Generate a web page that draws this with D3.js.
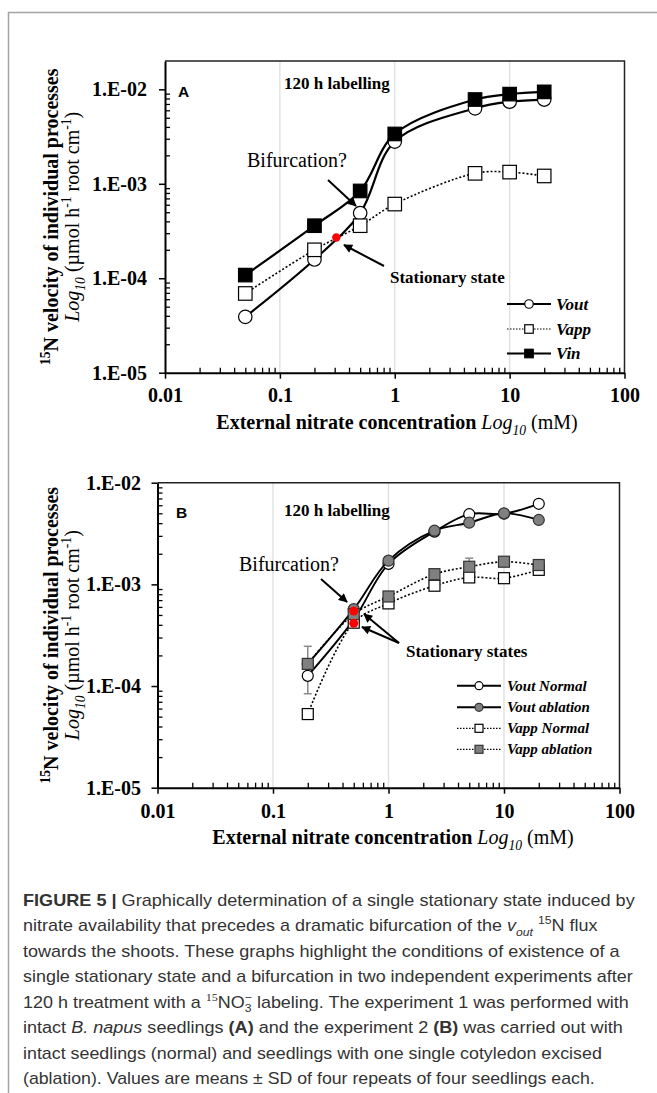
<!DOCTYPE html>
<html>
<head>
<meta charset="utf-8">
<script src="https://cdn.jsdelivr.net/npm/d3@7"></script>
<style>
  body { margin: 0; background: #fff; }
  svg { display: block; }
</style>
</head>
<body>
<svg id="fig" width="657" height="1093" font-family='"Liberation Serif", "Times New Roman", serif'></svg>
<script>
// ---- data ----
const xTicks = [0.01, 0.1, 1, 10, 100];
const xTickLabels = ['0.01', '0.1', '1', '10', '100'];
const yTicks = [1e-5, 1e-4, 1e-3, 1e-2];
const yTickLabels = ['1.E-05', '1.E-04', '1.E-03', '1.E-02'];

// panel A
const xA = [0.05, 0.2, 0.5, 1, 5, 10, 20];
const voutA = [3.9e-5, 1.58e-4, 4.9e-4, 2.8e-3, 6.3e-3, 7.4e-3, 7.8e-3];
const vappA = [6.9e-5, 2.0e-4, 3.6e-4, 6.1e-4, 1.29e-3, 1.33e-3, 1.21e-3];
const vinA = [1.08e-4, 3.6e-4, 8.4e-4, 3.37e-3, 7.8e-3, 8.9e-3, 9.4e-3];
const stationaryAx = [0.31];
const stationaryAy = [2.7e-4];

// panel B
const xB = [0.2, 0.5, 1, 2.5, 5, 10, 20];
const voutNormalB = [1.26e-4, 4.5e-4, 1.59e-3, 3.3e-3, 4.9e-3, 4.95e-3, 6.2e-3];
const voutAblationB = [1.65e-4, 5.7e-4, 1.71e-3, 3.37e-3, 4.04e-3, 5.0e-3, 4.3e-3];
const vappNormalB = [5.3e-5, 4.2e-4, 6.5e-4, 9.7e-4, 1.17e-3, 1.15e-3, 1.39e-3];
const vappAblationB = [1.65e-4, 5.1e-4, 7.6e-4, 1.26e-3, 1.49e-3, 1.67e-3, 1.55e-3];
const sdVappAblationB = [0.81e-4, null, null, null, 0.32e-3, null, null];
const stationaryBx = [0.5, 0.5];
const stationaryBy = [5.47e-4, 4.14e-4];

const SANS = '"Liberation Sans", Arial, sans-serif';
const SERIF = '"Liberation Serif", "Times New Roman", serif';

const svg = d3.select('#fig');
svg.append('rect').attr('width', 657).attr('height', 1093).attr('fill', '#fff');

// grey frame of the figure
svg.append('path')
    .attr('d', 'M8.5,1093V12.5H657')
    .attr('fill', 'none')
    .attr('stroke', '#a3a3a3')
    .attr('stroke-width', 1.5);

const defs = svg.append('defs');
defs.append('marker')
    .attr('id', 'arr')
    .attr('viewBox', '0 0 10 10')
    .attr('refX', 9).attr('refY', 5)
    .attr('markerWidth', 12).attr('markerHeight', 9)
    .attr('markerUnits', 'userSpaceOnUse')
    .attr('orient', 'auto')
    .append('path').attr('d', 'M0,0L10,5L0,10z').attr('fill', '#000');

// text made of several styled runs (bold / italic / sup / sub)
function rich(sel, parts, size) {
    let shift = 0;
    parts.forEach(p => {
        const ts = sel.append('tspan').text(p.t);
        const target = p.sup ? -size * 0.42 : p.sub ? size * 0.28 : 0;
        ts.attr('dy', target - shift);
        shift = target;
        if (p.sup || p.sub) ts.attr('font-size', size * 0.68);
        if (p.b) ts.attr('font-weight', 'bold');
        if (p.i) ts.attr('font-style', 'italic');
        if (p.dx) ts.attr('dx', p.dx);
        if (p.f) ts.attr('font-family', p.f);
    });
    return sel;
}

function minorTicks(lo, hi) {
    const v = [];
    for (let e = lo; e < hi; e++) for (let k = 2; k <= 9; k++) v.push(k * Math.pow(10, e));
    return v;
}

function arrow(x1, y1, x2, y2) {
    svg.append('line')
        .attr('x1', x1).attr('y1', y1).attr('x2', x2).attr('y2', y2)
        .attr('stroke', '#000').attr('stroke-width', 2)
        .attr('marker-end', 'url(#arr)');
}

function label(x, y, txt, size, weight, family) {
    return svg.append('text')
        .attr('x', x).attr('y', y)
        .attr('font-size', size)
        .attr('font-weight', weight || 'normal')
        .attr('font-family', family || SERIF)
        .text(txt);
}

// draws axes, gridlines, frame, titles; returns the scales
function drawFrame(p) {
    const x = d3.scaleLog().domain([0.01, 100]).range([p.x0, p.x1]);
    const y = d3.scaleLog().domain([1e-5, p.yTop]).range([p.y0, p.y1]);

    svg.append('g').selectAll('line')
        .data(xTicks.slice(1, -1))
        .join('line')
        .attr('x1', d => x(d)).attr('x2', d => x(d))
        .attr('y1', p.y1).attr('y2', p.y0)
        .attr('stroke', '#dedede').attr('stroke-width', 1.3);

    svg.append('path')
        .attr('d', `M${p.x0},${p.y1}H${p.x1}V${p.y0}`)
        .attr('fill', 'none').attr('stroke', '#222').attr('stroke-width', 1.5);

    // minor ticks (inside)
    svg.append('g')
        .attr('transform', `translate(0,${p.y0})`)
        .call(d3.axisTop(x).tickValues(minorTicks(-2, 2)).tickFormat('').tickSize(5).tickSizeOuter(0))
        .call(g => g.select('.domain').remove())
        .selectAll('line').attr('stroke-width', 1.3);
    svg.append('g')
        .attr('transform', `translate(${p.x0},0)`)
        .call(d3.axisRight(y).tickValues(minorTicks(-5, -2).concat(p.yTop > 0.011 ? [2e-2] : []).filter(v => v < p.yTop)).tickFormat('').tickSize(5).tickSizeOuter(0))
        .call(g => g.select('.domain').remove())
        .selectAll('line').attr('stroke-width', 1.3);

    // major axes
    const xa = svg.append('g')
        .attr('transform', `translate(0,${p.y0})`)
        .call(d3.axisBottom(x).tickValues(xTicks).tickFormat((d, i) => xTickLabels[i])
            .tickSize(6).tickSizeOuter(0).tickPadding(p.xPad));
    const ya = svg.append('g')
        .attr('transform', `translate(${p.x0},0)`)
        .call(d3.axisLeft(y).tickValues(yTicks).tickFormat((d, i) => yTickLabels[i])
            .tickSize(6).tickSizeOuter(0).tickPadding(p.yPad));
    [xa, ya].forEach(a => {
        a.select('.domain').attr('stroke', '#000').attr('stroke-width', 2);
        a.selectAll('.tick line').attr('stroke', '#000').attr('stroke-width', 1.5);
        a.selectAll('text')
            .attr('font-family', SERIF)
            .attr('font-weight', 'bold')
            .attr('font-size', 20)
            .attr('fill', '#000');
    });

    // x title
    rich(svg.append('text')
        .attr('x', p.xTitleX).attr('y', p.xTitleY)
        .attr('text-anchor', 'middle').attr('font-size', 20), [
        { t: 'External nitrate concentration ', b: true },
        { t: 'Log', i: true },
        { t: '10', i: true, sub: true },
        { t: ' (mM)' }
    ], 20);

    // y title, two lines
    const cy = (p.y0 + p.y1) / 2;
    rich(svg.append('text')
        .attr('transform', `translate(${p.yTitleX1},${cy}) rotate(-90)`)
        .attr('text-anchor', 'middle').attr('font-size', 20).attr('font-weight', 'bold'), [
        { t: '15', sup: true },
        { t: 'N velocity of individual processes' }
    ], 20);
    rich(svg.append('text')
        .attr('transform', `translate(${p.yTitleX2},${cy}) rotate(-90)`)
        .attr('text-anchor', 'middle').attr('font-size', 20), [
        { t: 'Log', i: true },
        { t: '10', i: true, sub: true },
        { t: ' (\u00b5mol h' },
        { t: '-1', sup: true },
        { t: ' root cm' },
        { t: '-1', sup: true },
        { t: ')' }
    ], 20);

    return { x, y };
}

function drawSeries(sc, s) {
    const pts = s.xs.map((v, i) => [v, s.ys[i]]);
    const line = d3.line()
        .x(d => sc.x(d[0])).y(d => sc.y(d[1]))
        .curve(d3.curveCatmullRom.alpha(0.5));
    svg.append('path')
        .datum(pts)
        .attr('d', line)
        .attr('fill', 'none')
        .attr('stroke', '#000')
        .attr('stroke-width', s.dash ? s.dw : s.lw)
        .attr('stroke-dasharray', s.dash || null);
    drawMarkers(svg.append('g'), pts.map(d => [sc.x(d[0]), sc.y(d[1])]), s);
}

function drawMarkers(g, pix, s) {
    if (s.shape === 'circle') {
        g.selectAll('circle').data(pix).join('circle')
            .attr('cx', d => d[0]).attr('cy', d => d[1]).attr('r', s.size / 2)
            .attr('fill', s.fill).attr('stroke', s.stroke || '#000').attr('stroke-width', 1.2);
    } else {
        g.selectAll('rect').data(pix).join('rect')
            .attr('x', d => d[0] - s.size / 2).attr('y', d => d[1] - s.size / 2)
            .attr('width', s.size).attr('height', s.size)
            .attr('fill', s.fill).attr('stroke', s.stroke || '#000').attr('stroke-width', 1.2);
    }
}

function drawLegend(items, lx0, lx1, tx, rows, size, msize) {
    items.forEach((s, i) => {
        const yy = rows[i];
        svg.append('line')
            .attr('x1', lx0).attr('x2', lx1).attr('y1', yy).attr('y2', yy)
            .attr('stroke', '#000')
            .attr('stroke-width', s.dash ? 1.2 : 2)
            .attr('stroke-dasharray', s.dash ? '1.5,1.5' : null);
        drawMarkers(svg.append('g'), [[(lx0 + lx1) / 2, yy]], Object.assign({}, s, { size: msize }));
        svg.append('text')
            .attr('x', tx).attr('y', yy + size * 0.33)
            .attr('font-family', SERIF)
            .attr('font-size', size).attr('font-weight', 'bold').attr('font-style', 'italic')
            .text(s.name);
    });
}

// ---------------- panel A ----------------
const scA = drawFrame({
    x0: 165, x1: 624.5, y0: 372.7, y1: 60.9, yTop: 2e-2,
    xPad: 9, yPad: 12,
    xTitleX: 397, xTitleY: 429,
    yTitleX1: 58, yTitleX2: 79
});
const seriesA = [
    { name: 'Vout', xs: xA, ys: voutA, shape: 'circle', fill: '#fff', size: 13.5, lw: 2.2 },
    { name: 'Vapp', xs: xA, ys: vappA, shape: 'square', fill: '#fff', size: 13.5, dash: '2,2', dw: 1.6 },
    { name: 'Vin', xs: xA, ys: vinA, shape: 'square', fill: '#000', size: 13.5, lw: 2.2 }
];
seriesA.forEach(s => drawSeries(scA, s));
svg.append('g').selectAll('circle')
    .data(stationaryAx.map((v, i) => [v, stationaryAy[i]]))
    .join('circle')
    .attr('cx', d => scA.x(d[0])).attr('cy', d => scA.y(d[1])).attr('r', 4.2)
    .attr('fill', '#f00');

label(178, 97.3, 'A', 15.5, 'bold', SANS);
label(284, 89.3, '120 h labelling', 17, 'bold');
label(247, 167.3, 'Bifurcation?', 20);
arrow(328, 180, 356, 206);
label(390, 283, 'Stationary state', 17, 'bold');
arrow(384, 266, 344, 245);
drawLegend(seriesA, 507, 551, 556, [304, 329, 353.5], 17, 8.5);

// ---------------- panel B ----------------
const scB = drawFrame({
    x0: 157.5, x1: 619.5, y0: 787.7, y1: 482.7, yTop: 1e-2,
    xPad: 10, yPad: 10.5,
    xTitleX: 393, xTitleY: 844,
    yTitleX1: 58, yTitleX2: 79
});
const seriesB = [
    { name: 'Vout Normal', xs: xB, ys: voutNormalB, shape: 'circle', fill: '#fff', size: 11, lw: 1.9 },
    { name: 'Vout ablation', xs: xB, ys: voutAblationB, shape: 'circle', fill: '#808080', stroke: '#333', size: 11, lw: 1.9 },
    { name: 'Vapp Normal', xs: xB, ys: vappNormalB, shape: 'square', fill: '#fff', size: 11, dash: '2,2', dw: 1.6 },
    { name: 'Vapp ablation', xs: xB, ys: vappAblationB, shape: 'square', fill: '#808080', stroke: '#333', size: 11, dash: '2,2', dw: 1.6 }
];
// error bars (behind markers)
const eb = svg.append('g').attr('stroke', '#8a8a8a').attr('stroke-width', 1.5);
xB.forEach((v, i) => {
    const sd = sdVappAblationB[i];
    if (sd == null) return;
    const cx = scB.x(v), hi = scB.y(vappAblationB[i] + sd), lo = scB.y(vappAblationB[i] - sd);
    eb.append('line').attr('x1', cx).attr('x2', cx).attr('y1', hi).attr('y2', lo);
    eb.append('line').attr('x1', cx - 4).attr('x2', cx + 4).attr('y1', hi).attr('y2', hi);
    eb.append('line').attr('x1', cx - 4).attr('x2', cx + 4).attr('y1', lo).attr('y2', lo);
});
seriesB.forEach(s => drawSeries(scB, s));
svg.append('g').selectAll('circle')
    .data(stationaryBx.map((v, i) => [v, stationaryBy[i]]))
    .join('circle')
    .attr('cx', d => scB.x(d[0])).attr('cy', d => scB.y(d[1])).attr('r', 4.5)
    .attr('fill', '#f00');

label(176, 517.7, 'B', 15.5, 'bold', SANS);
label(284, 516, '120 h labelling', 17, 'bold');
label(239, 571, 'Bifurcation?', 20);
arrow(321, 579, 347, 602);
label(406, 656.7, 'Stationary states', 17, 'bold');
arrow(399, 643, 364, 614);
arrow(399, 643, 362, 627);
drawLegend(seriesB, 457, 501, 507, [685.7, 707.3, 728.3, 749.3], 15, 8);

// ---------------- caption ----------------
const capLines = [
    [{ t: 'FIGURE 5 | ', b: true }, { t: 'Graphically determination of a single stationary state induced by' }],
    [{ t: 'nitrate availability that precedes a dramatic bifurcation of the ' }, { t: 'v', i: true }, { t: 'out', i: true, sub: true }, { t: ' ' }, { t: '15', sup: true }, { t: 'N flux' }],
    [{ t: 'towards the shoots. These graphs highlight the conditions of existence of a' }],
    [{ t: 'single stationary state and a bifurcation in two independent experiments after' }],
    [{ t: '120 h treatment with a ' }, { t: '15', sup: true, f: SERIF }, { t: 'NO' }, { t: '3', sub: true }, { t: '\u2212', sup: true, dx: -6 }, { t: ' labeling. The experiment 1 was performed with' }],
    [{ t: 'intact ' }, { t: 'B. napus', i: true }, { t: ' seedlings ' }, { t: '(A)', b: true }, { t: ' and the experiment 2 ' }, { t: '(B)', b: true }, { t: ' was carried out with' }],
    [{ t: 'intact seedlings (normal) and seedlings with one single cotyledon excised' }],
    [{ t: '(ablation). Values are means \u00b1 SD of four repeats of four seedlings each.' }]
];
const capWidths = [612, 575, 597, 610, 613, 600, 579, 572];
capLines.forEach((parts, i) => {
    const t = svg.append('text')
        .attr('font-family', SANS)
        .attr('font-size', 16)
        .attr('fill', '#333');
    rich(t, parts, 16);
    const w = t.node().getComputedTextLength();
    const by = 905.7 + i * 25.47;
    t.attr('transform', `translate(23,${by}) scale(${capWidths[i] / w},1)`);
});
</script>
</body>
</html>
